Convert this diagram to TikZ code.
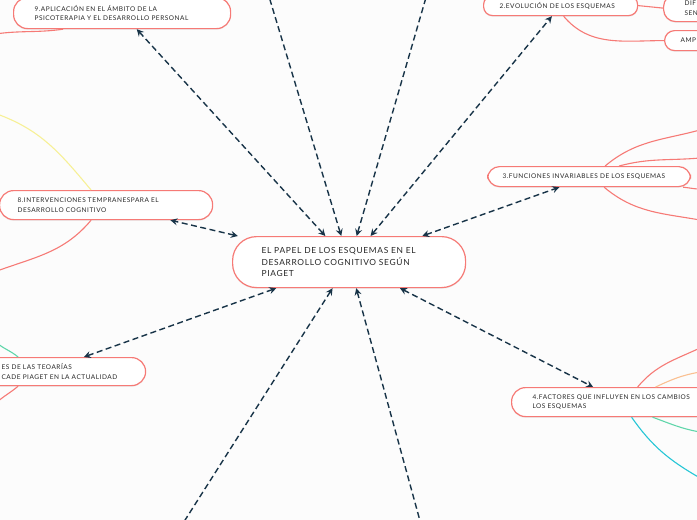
\documentclass[tikz,border=0pt]{standalone}
\usepackage{fontspec}
\newfontfamily\mapfont[LetterSpace=8]{Lato}
\usetikzlibrary{arrows.meta, shadows}
\definecolor{bgwhite}{RGB}{252,252,252}
\definecolor{topicred}{RGB}{246,122,118}
\definecolor{linknavy}{RGB}{24,52,72}
\definecolor{textgrey}{RGB}{40,40,40}
\definecolor{subyellow}{RGB}{247,240,150}
\definecolor{subgreen}{RGB}{96,214,170}
\definecolor{suborange}{RGB}{250,192,145}
\definecolor{subcyan}{RGB}{38,198,214}

\begin{document}
\begin{tikzpicture}[
    x=1pt, y=-1pt,
    topic/.style={rectangle, rounded corners=#1, draw=topicred, line width=1.2pt, fill=white,
        anchor=north west, align=left, inner ysep=0pt, text=textgrey,
        font=\mapfont\fontsize{6.5}{9.5}\selectfont,
        drop shadow={opacity=0.12, shadow xshift=0pt, shadow yshift=-1.2pt}},
    topic/.default=10pt,
    link/.style={{Stealth[length=7pt, width=7pt, inset=2.5pt]}-{Stealth[length=7pt, width=7pt, inset=2.5pt]},
        draw=linknavy, line width=1.4pt, dash pattern=on 6pt off 3.5pt},
    branch/.style={draw=#1, line width=1.1pt},
    branch/.default=topicred
]

\useasboundingbox (0,0) rectangle (697,520);
\fill[bgwhite] (0,0) rectangle (697,520);
\clip (0,0) rectangle (697,520);

% Central topic
\node[topic=24pt, inner xsep=29pt, text width=175pt, minimum height=51pt,
      font=\mapfont\fontsize{8.4}{11.5}\selectfont] (root) at (232,236)
    {EL PAPEL DE LOS ESQUEMAS EN EL\\DESARROLLO COGNITIVO SEGÚN\\PIAGET};

% Main topics
\node[topic=14pt, inner xsep=21pt, text width=175pt, minimum height=31pt] (b9-apl) at (13,-3)
    {9.APLICACIÓN EN EL ÁMBITO DE LA\\PSICOTERAPIA Y EL DESARROLLO PERSONAL};
\node[topic=9pt, inner xsep=16pt, text width=122pt, minimum height=20pt] (b2-evo) at (483,-5)
    {2.EVOLUCIÓN DE LOS ESQUEMAS};
\node[topic=12pt, inner xsep=15pt, text width=173pt, minimum height=20pt] (b3-func) at (487,166)
    {3.FUNCIONES INVARIABLES DE LOS ESQUEMAS};
\node[topic=14pt, inner xsep=18pt, text width=177pt, minimum height=29pt] (b8-int) at (-1,190)
    {8.INTERVENCIONES TEMPRANESPARA EL\\DESARROLLO COGNITIVO};
\node[topic=14pt, inner xsep=4pt, text width=197pt, minimum height=28pt] (b7-teo) at (-60,357)
    {\hspace*{57pt}ES DE LAS TEOARÍAS\\\hspace*{57pt}CADE PIAGET EN LA ACTUALIDAD};
\node[topic=14pt, inner xsep=21pt, text width=180pt, minimum height=29pt] (b4-fact) at (511,387)
    {4.FACTORES QUE INFLUYEN EN LOS CAMBIOS\\LOS ESQUEMAS};

% Subtopics of 2
\node[topic=12pt, inner xsep=21pt, text width=40pt, minimum height=27pt] (b2-dif) at (663,-6)
    {DIF\\SEN};
\node[topic=10pt, inner xsep=16pt, text width=40pt, minimum height=20pt] (b2-ampl) at (664,30)
    {AMPL};

% Free ends
\coordinate (top-left) at (261,-30);
\coordinate (top-right) at (434,-30);
\coordinate (bot-left) at (166,550);
\coordinate (bot-right) at (428,550);
\coordinate (e9a) at (-5,34);
\coordinate (e3a) at (700,130);
\coordinate (e3b) at (700,158);
\coordinate (e3c) at (700,220);
\coordinate (e3d) at (700,189);
\coordinate (e8a) at (-3,114);
\coordinate (e8b) at (-3,271);
\coordinate (e7a) at (-3,343);
\coordinate (e7b) at (-3,402);
\coordinate (e4a) at (700,348);
\coordinate (e4b) at (700,372);
\coordinate (e4c) at (700,432);
\coordinate (e4d) at (700,478);

% Branch lines
\draw[branch] ([xshift=-59pt]b9-apl.south) to[out=188, in=8] (e9a);
\draw[branch] (b2-evo.east) -- (b2-dif.west);
\draw[branch] ([xshift=3pt]b2-evo.south) to[out=-50, in=180] (b2-ampl.west);
\draw[branch] ([xshift=16pt]b3-func.north) to[out=40, in=195] (e3a);
\draw[branch] ([xshift=30pt]b3-func.north) to[out=15, in=185] (e3b);
\draw[branch] ([xshift=15pt]b3-func.south) to[out=-40, in=170] (e3c);
\draw[branch] ([xshift=-8pt]b3-func.south east) to[out=-5, in=180] (e3d);
\draw[branch=subyellow] ([xshift=-15pt]b8-int.north) to[out=130, in=-20] (e8a);
\draw[branch] ([xshift=-15pt]b8-int.south) to[out=230, in=20] (e8b);
\draw[branch=subgreen] ([xshift=-25pt]b7-teo.north) to[out=140, in=-40] (e7a);
\draw[branch] ([xshift=-25pt]b7-teo.south) to[out=-140, in=40] (e7b);
\draw[branch] ([xshift=15pt]b4-fact.north) to[out=50, in=205] (e4a);
\draw[branch=suborange] ([xshift=33pt]b4-fact.north) to[out=25, in=190] (e4b);
\draw[branch=subgreen] ([xshift=30pt]b4-fact.south) to[out=-20, in=170] (e4c);
\draw[branch=subcyan] ([xshift=9pt]b4-fact.south) to[out=-55, in=150] (e4d);

% Links to the central topic
\draw[link] (root) -- (b9-apl);
\draw[link] (root) -- (top-left);
\draw[link] (root) -- (top-right);
\draw[link] (root) -- (b2-evo);
\draw[link] (root) -- (b3-func);
\draw[link] (root) -- (b8-int);
\draw[link] (root) -- (b7-teo);
\draw[link] (root) -- (bot-left);
\draw[link] (root) -- (bot-right);
\draw[link] (root) -- (b4-fact);

\end{tikzpicture}
\end{document}
